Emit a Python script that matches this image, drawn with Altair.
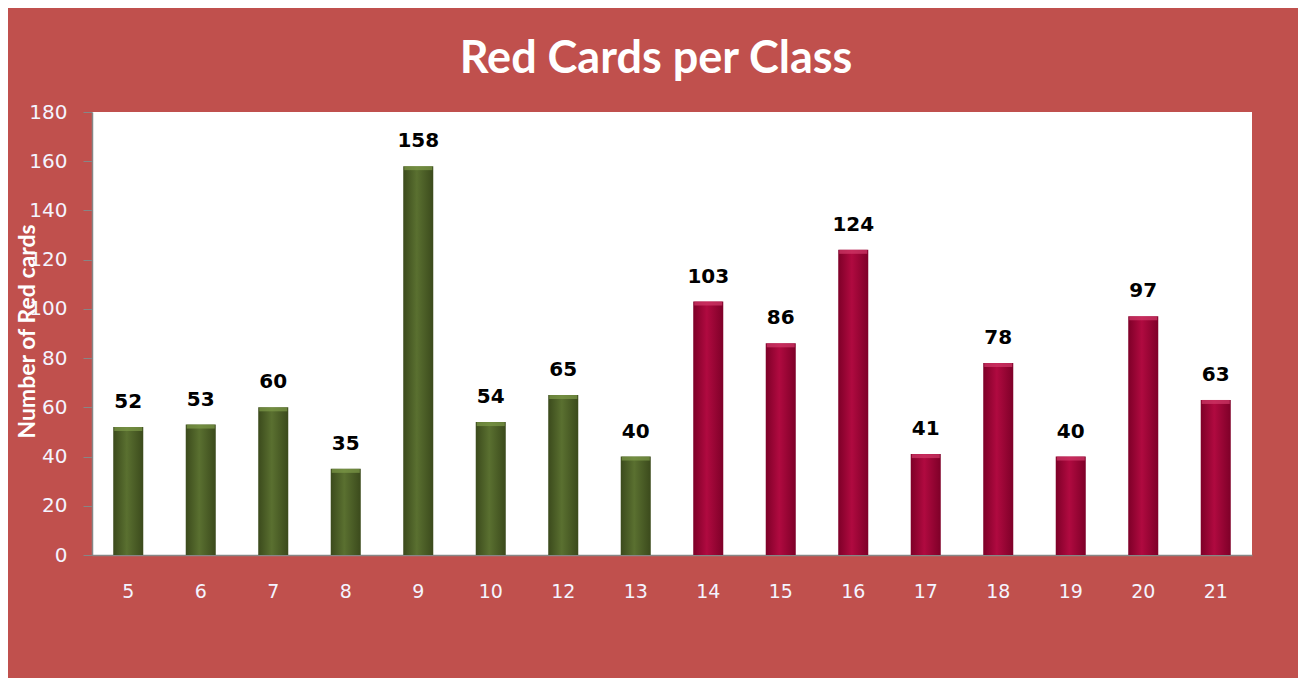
import altair as alt
import pandas as pd

classes = ["5", "6", "7", "8", "9", "10", "12", "13", "14", "15", "16", "17", "18", "19", "20", "21"]
cards = [52, 53, 60, 35, 158, 54, 65, 40, 103, 86, 124, 41, 78, 40, 97, 63]
group = ["A"] * 8 + ["B"] * 8

df = pd.DataFrame({"cls": classes, "cards": cards, "grp": group})

xscale = alt.Scale(paddingInner=0.586, paddingOuter=0.293)
xenc = alt.X("cls:N", sort=classes, title=None, scale=xscale,
             axis=alt.Axis(labelAngle=0, ticks=False, labelPadding=27,
                           labelFont="DejaVu Sans", labelFontSize=19,
                           labelColor="#F4F4FF", domainColor="#868686",
                           domainWidth=1.5))
yenc = alt.Y("cards:Q", title="Number of Red cards",
             scale=alt.Scale(domain=[0, 180], nice=False),
             axis=alt.Axis(values=list(range(0, 181, 20)), grid=False,
                           tickSize=9, tickColor="#868686", domainColor="#868686",
                           domainWidth=1.5,
                           labelPadding=16, labelFont="DejaVu Sans", labelFontSize=20,
                           labelColor="#F4F4FF",
                           titleFont="Lato", titleFontSize=23, titleFontWeight="bold",
                           titleColor="#FFFFFF", titleX=-65, titleY=219,
                           titleBaseline="middle", titleAlign="center", titleAngle=270))

base = alt.Chart(df)

green_grad = alt.Gradient(gradient="linear", x1=0, x2=1, y1=0, y2=0, stops=[
    alt.GradientStop(color="#3B4A1C", offset=0),
    alt.GradientStop(color="#5A7030", offset=0.45),
    alt.GradientStop(color="#3B4A1C", offset=1)])
red_grad = alt.Gradient(gradient="linear", x1=0, x2=1, y1=0, y2=0, stops=[
    alt.GradientStop(color="#7E0028", offset=0),
    alt.GradientStop(color="#B00A40", offset=0.45),
    alt.GradientStop(color="#7E0028", offset=1)])

ga = base.transform_filter(alt.datum.grp == "A")
gb = base.transform_filter(alt.datum.grp == "B")

bars_g = ga.mark_bar(color=green_grad).encode(x=xenc, y=yenc)
bars_r = gb.mark_bar(color=red_grad).encode(x=xenc, y=yenc)

xplain = alt.X("cls:N", sort=classes, scale=xscale)
cap_g = ga.mark_tick(color="#7E9A48", thickness=4, size=28, yOffset=2).encode(x=xplain, y="cards:Q")
cap_r = gb.mark_tick(color="#D23A6A", thickness=4, size=28, yOffset=2).encode(x=xplain, y="cards:Q")

labels = base.mark_text(font="DejaVu Sans", fontSize=20, fontWeight="bold", color="#000000",
                        baseline="alphabetic", dy=-19).encode(
    x=xplain, y="cards:Q", text="cards:Q")

chart = alt.layer(bars_g, bars_r, cap_g, cap_r, labels).properties(
    width=1160, height=443,
    padding={"left": 84, "top": 104, "right": 46, "bottom": 123},
    autosize=alt.AutoSizeParams(type="none"),
    background="#C0504D",
    title=alt.TitleParams("Red Cards per Class", font="Lato", fontSize=45, fontWeight="bold",
                          color="#FFFFFF", anchor="middle", dx=-16, offset=20),
).configure_view(fill="#FFFFFF", stroke=None)

chart.save("out.html", embed_options={"renderer": "svg", "actions": False})
